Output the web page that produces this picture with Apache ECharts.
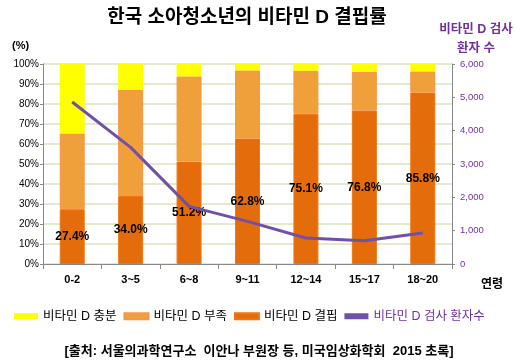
<!DOCTYPE html>
<html><head><meta charset="utf-8">
<script src="https://cdn.jsdelivr.net/npm/echarts@6/dist/echarts.min.js"></script>
<style>html,body{margin:0;padding:0;background:#fff}#c{width:515px;height:360px}</style>
</head><body><div id="c"></div>
<script>
var categories = ['0-2','3~5','6~8','9~11','12~14','15~17','18~20'];
var deficient = [27.4, 34.0, 51.2, 62.8, 75.1, 76.8, 85.8];
var insufficient = [37.9, 53.2, 42.6, 34.0, 21.6, 19.2, 10.5];
var sufficient = [34.7, 12.8, 6.2, 3.2, 3.3, 4.0, 3.7];
var patients = [4860, 3500, 1730, 1280, 780, 700, 930];
var leftTicks = [0,10,20,30,40,50,60,70,80,90,100];
var rightTicks = [0,1000,2000,3000,4000,5000,6000];
var names = ['비타민 D 충분','비타민 D 부족','비타민 D 결핍','비타민 D 검사 환자수'];

var font = 'Arial, "Noto Sans CJK KR", sans-serif';
var chart = echarts.init(document.getElementById('c'));
chart.setOption({
  animation: false,
  textStyle: {fontFamily: font},
  title: [
    {text: '한국 소아청소년의 비타민 D 결핍률', left: 242, top: 3, textAlign: 'center',
     textStyle: {fontSize: 19, fontWeight: 'bold', color: '#000', fontFamily: font}},
    {text: '(%)', left: 7, top: 35, textStyle: {fontSize: 11, fontWeight: 'bold', color: '#000', fontFamily: font}},
    {text: '비타민 D 검사', left: 471, top: 18, textAlign: 'center', textStyle: {fontSize: 12.5, fontWeight: 'bold', color: '#7030A0', fontFamily: font}},
    {text: '환자 수', left: 471, top: 37, textAlign: 'center', textStyle: {fontSize: 12.5, fontWeight: 'bold', color: '#7030A0', fontFamily: font}},
    {text: '연령', left: 487, top: 274, textAlign: 'center', textStyle: {fontSize: 12, fontWeight: 'bold', color: '#000', fontFamily: font}},
    {text: '[출처: 서울의과학연구소  이안나 부원장 등, 미국임상화학회  2015 초록]', left: 254, top: 340, textAlign: 'center',
     textStyle: {fontSize: 13, fontWeight: 'bold', color: '#000', fontFamily: font}}
  ],
  legend: {
    left: 9, top: 305, itemGap: 7, itemWidth: 24, itemHeight: 6,
    textStyle: {fontSize: 12.5, color: '#000', fontFamily: font},
    data: [
      {name: names[0], icon: 'rect'},
      {name: names[1], icon: 'rect'},
      {name: names[2], icon: 'rect'},
      {name: names[3], icon: 'rect', textStyle: {color: '#7030A0'}}
    ]
  },
  grid: {left: 43, right: 63, top: 64, bottom: 96},
  xAxis: {
    type: 'category', data: categories,
    axisLine: {lineStyle: {color: '#888'}},
    axisTick: {show: true, lineStyle: {color: '#888'}},
    axisLabel: {fontSize: 11, fontWeight: 'bold', color: '#000', margin: 10}
  },
  yAxis: [
    {type: 'value', min: 0, max: 100, interval: 10,
     axisLine: {show: true, lineStyle: {color: '#888'}},
     axisTick: {show: true, length: 3, lineStyle: {color: '#888'}},
     splitLine: {lineStyle: {color: '#d7e4bd', width: 1.5}},
     axisLabel: {fontSize: 10, color: '#000', margin: 4, formatter: function(v){return v + '%';}}},
    {type: 'value', min: 0, max: 6000, interval: 1000,
     axisLine: {show: true, lineStyle: {color: '#888'}},
     axisTick: {show: true, length: 3, lineStyle: {color: '#888'}},
     splitLine: {show: false},
     axisLabel: {fontSize: 9.5, color: '#7030A0', margin: 8, formatter: function(v){return v.toLocaleString('en-US');}}}
  ],
  series: [
    {name: names[2], type: 'bar', stack: 'a', barWidth: 25, data: deficient,
     itemStyle: {color: '#E46C0A', borderColor: '#F0760F', borderWidth: 1},
     label: {show: true, position: 'inside', formatter: function(p){return p.value.toFixed(1) + '%';},
             fontSize: 12, fontWeight: 'bold', color: '#000'}},
    {name: names[1], type: 'bar', stack: 'a', barWidth: 25, data: insufficient,
     itemStyle: {color: '#F0A03A', borderColor: '#F79646', borderWidth: 1}},
    {name: names[0], type: 'bar', stack: 'a', barWidth: 25, data: sufficient,
     itemStyle: {color: '#FFFF00'}},
    {name: names[3], type: 'line', yAxisIndex: 1, data: patients, symbol: 'none',
     lineStyle: {color: '#7050A8', width: 3}, itemStyle: {color: '#7050A8'}, z: 5}
  ]
});
</script></body></html>
